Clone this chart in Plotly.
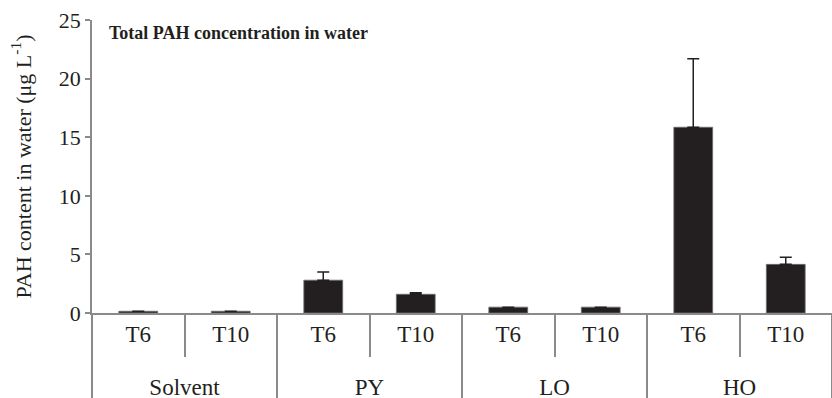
import plotly.graph_objects as go

# Treatment groups and sampling times
groups = ["Solvent", "Solvent", "PY", "PY", "LO", "LO", "HO", "HO"]
times = ["T6", "T10", "T6", "T10", "T6", "T10", "T6", "T10"]

# Mean total PAH concentration (µg/L) and standard deviation
pah_mean = [0.15, 0.15, 2.8, 1.6, 0.5, 0.5, 15.85, 4.15]
pah_sd = [0.0, 0.0, 0.7, 0.13, 0.0, 0.0, 5.85, 0.6]

font_family = "Liberation Serif"
axis_grey = "#8a8a8a"
bar_color = "#231f20"

# a thin spacer line under each time label pushes the group row lower
time_labels = [t + "<br><span style='font-size:4px'>&nbsp;</span>" for t in times]

fig = go.Figure()
fig.add_trace(go.Bar(
    x=[groups, time_labels],
    y=pah_mean,
    width=0.42,
    marker=dict(color=bar_color, line=dict(color="#6e6e6e", width=0.8)),
    error_y=dict(type="data", symmetric=False, array=pah_sd,
                 arrayminus=[0] * len(pah_sd),
                 color=bar_color, thickness=1.5, width=6),
))

fig.add_annotation(
    x=0.02, y=0.995, xref="paper", yref="paper",
    xanchor="left", yanchor="top",
    text="<b>Total PAH concentration in water</b>",
    showarrow=False,
    font=dict(family=font_family, size=18, color="#231f20"),
)

# rotated y-axis title
fig.add_annotation(
    x=-0.096, y=0.5, xref="paper", yref="paper",
    xanchor="center", yanchor="middle", textangle=-90,
    text="PAH content in water (μg L<sup>-1</sup>)",
    showarrow=False,
    font=dict(family=font_family, size=22, color="#231f20"),
)

fig.update_layout(
    width=832, height=398,
    margin=dict(l=92, r=0, t=20, b=85),
    paper_bgcolor="white", plot_bgcolor="white",
    showlegend=False,
    bargap=0.58,
    font=dict(family=font_family, size=22, color="#231f20"),
    yaxis=dict(
        range=[0, 25], dtick=5,
        showline=True, linecolor=axis_grey, linewidth=1.5,
        ticks="outside", ticklen=5, tickcolor=axis_grey, tickwidth=1.5,
        tickfont=dict(size=22),
        showgrid=False, zeroline=False,
    ),
    xaxis=dict(
        type="multicategory",
        showline=True, linecolor=axis_grey, linewidth=1.5,
        ticks="outside", ticklen=42, tickcolor=axis_grey, tickwidth=1.5,
        tickson="boundaries",
        tickfont=dict(size=23),
        showdividers=True, dividercolor=axis_grey, dividerwidth=1.5,
        showgrid=False, zeroline=False,
    ),
)

fig.write_html("out.html")
